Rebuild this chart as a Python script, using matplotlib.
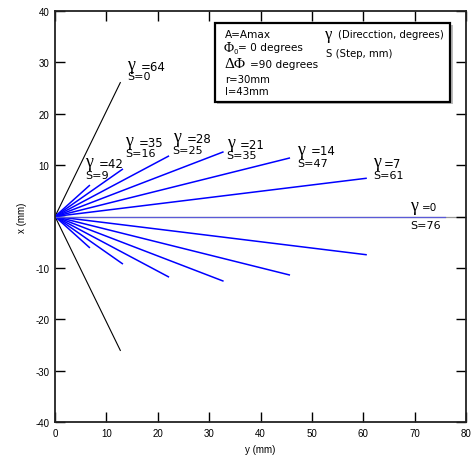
import numpy as np
import matplotlib
matplotlib.use("Agg")
import matplotlib.pyplot as plt
from matplotlib.patches import Rectangle

# ---- data ----
gamma_deg = [64, 42, 35, 28, 21, 14, 7, 0]
step_mm = [0, 9, 16, 25, 35, 47, 61, 76]
ray_len = [29, 9, 16, 25, 35, 47, 61, 76]
x_ticks = [0, 10, 20, 30, 40, 50, 60, 70, 80]
y_ticks = [-40, -30, -20, -10, 0, 10, 20, 30, 40]
y_tick_labels = ["-40", "-30", "-20", "-10", "", "10", "20", "30", "40"]
legend_left = ["A=Amax", None, None, "r=30mm", "l=43mm"]
legend_right = ["(Direcction, degrees)", "S (Step, mm)"]

# label anchor positions (data coords): gamma row, S row
lab_x = [14.0, 5.8, 13.6, 22.9, 33.4, 47.1, 61.9, 69.2]
lab_yg = [29.6, 10.7, 14.8, 15.5, 14.4, 13.1, 10.7, 2.1]
lab_ys = [27.3, 8.1, 12.3, 12.9, 11.9, 10.5, 8.0, -1.75]

W, H = 473, 460
fig = plt.figure(figsize=(W / 100, H / 100), dpi=100)
ax = fig.add_axes([55 / W, 1 - 423 / H, (466 - 55) / W, (423 - 12) / H])
ax.set_xlim(0, 80)
ax.set_ylim(-40, 40)

ax.axhline(0, color="#9a9a9a", lw=0.9, zorder=1)

g = np.radians(gamma_deg)
L = np.array(ray_len, dtype=float)
ex = L * np.cos(g)
ey = L * np.sin(g)
for i in range(len(gamma_deg)):
    if gamma_deg[i] == 64:
        col, lw = "black", 0.8
    elif gamma_deg[i] == 0:
        col, lw = "#5a5ad8", 0.9
    else:
        col, lw = "#0000ff", 1.1
    ax.plot([0, ex[i]], [0, ey[i]], color=col, lw=lw, zorder=2)
    if gamma_deg[i] != 0:
        ax.plot([0, ex[i]], [0, -ey[i]], color=col, lw=lw, zorder=2)

for i in range(len(gamma_deg)):
    ax.text(lab_x[i], lab_yg[i], "\u03b3", family="Liberation Serif",
            fontsize=13, va="center", ha="left")
    small = gamma_deg[i] in (7, 0)
    ax.annotate("=%d" % gamma_deg[i], xy=(lab_x[i], lab_yg[i]),
                xytext=(8.0 if small else 9.8, -1.2),
                textcoords="offset points", fontsize=7.5 if gamma_deg[i] == 0 else 8.5,
                va="center", ha="left", family="DejaVu Sans")
    ax.text(lab_x[i], lab_ys[i], "S=%d" % step_mm[i], fontsize=8,
            va="center", ha="left", family="DejaVu Sans")

ax.set_xticks(x_ticks)
ax.set_yticks(y_ticks)
ax.set_yticklabels(y_tick_labels)
ax.tick_params(direction="in", length=7, width=1, top=True, right=True,
               labelsize=7, pad=4)
for lab in ax.get_xticklabels() + ax.get_yticklabels():
    lab.set_family("Liberation Sans")
for sp in ax.spines.values():
    sp.set_linewidth(1.3)
    sp.set_color("#222222")
ax.set_xlabel("y (mm)", fontsize=7, family="Liberation Sans", labelpad=5)
ax.set_ylabel("x (mm)", fontsize=7, family="Liberation Sans", labelpad=6)

# legend box
def fx(px):
    return px / W

def fy(py):
    return 1 - py / H

shadow = Rectangle((fx(217), fy(105)), fx(236), (103 - 24) / H, transform=fig.transFigure,
                   facecolor="#bbbbbb", edgecolor="none", zorder=5)
fig.patches.append(shadow)
box = Rectangle((fx(215), fy(103)), fx(235), (103 - 24) / H, transform=fig.transFigure,
                facecolor="white", edgecolor="black", lw=1.6, zorder=6)
fig.patches.append(box)

fs = 7.6
fig.text(fx(225), fy(35), legend_left[0], fontsize=fs, va="center", family="DejaVu Sans", zorder=7)
fig.text(fx(224), fy(48), "\u03a6", fontsize=10, va="center", family="Liberation Serif", zorder=7)
fig.text(fx(233.5), fy(52), "0", fontsize=5, va="center", family="DejaVu Sans", zorder=7)
fig.text(fx(238), fy(48), "= 0 degrees", fontsize=fs, va="center", family="DejaVu Sans", zorder=7)
fig.text(fx(224), fy(65), "\u0394\u03a6", fontsize=11, va="center", family="Liberation Serif", zorder=7)
fig.text(fx(250), fy(65), "=90 degrees", fontsize=fs, va="center", family="DejaVu Sans", zorder=7)
fig.text(fx(225), fy(80), legend_left[3], fontsize=7.3, va="center", family="DejaVu Sans", zorder=7)
fig.text(fx(225), fy(92), legend_left[4], fontsize=7.3, va="center", family="DejaVu Sans", zorder=7)
fig.text(fx(325), fy(35), "\u03b3", fontsize=12, va="center", family="Liberation Serif", zorder=7)
fig.text(fx(338), fy(35), legend_right[0], fontsize=7.3, va="center", family="DejaVu Sans", zorder=7)
fig.text(fx(326), fy(54), legend_right[1], fontsize=7.3, va="center", family="DejaVu Sans", zorder=7)

fig.savefig("out.png", dpi=100)
